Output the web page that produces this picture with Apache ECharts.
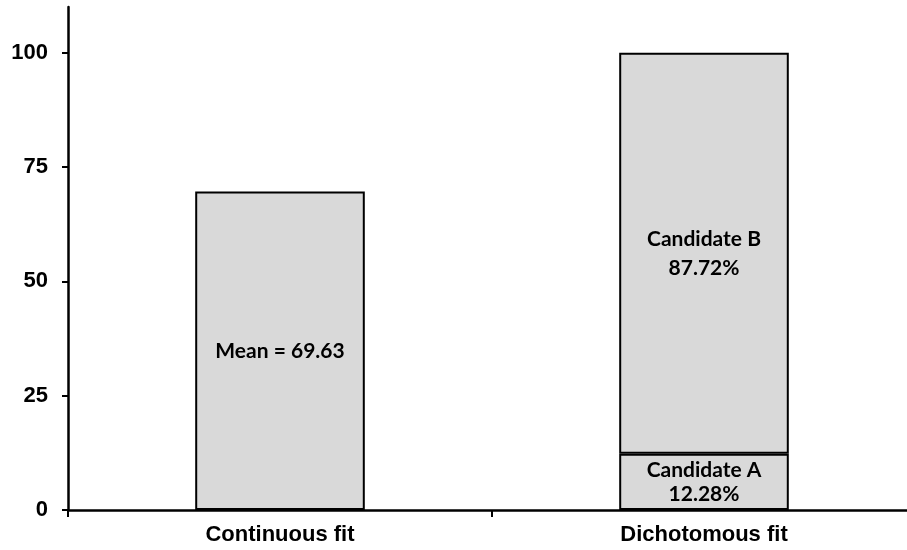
<!DOCTYPE html>
<html>
<head>
<meta charset="utf-8">
<script src="https://cdn.jsdelivr.net/npm/echarts@6/dist/echarts.min.js"></script>
<style>
  html, body { margin: 0; padding: 0; background: #fff; }
  #chart { width: 907px; height: 550px; }
</style>
</head>
<body>
<div id="chart"></div>
<script>
// Categories and values
const categories = ['Continuous fit', 'Dichotomous fit'];
const meanValues = [69.63, null];
const candidateA = [null, 12.28];
const candidateB = [null, 87.72];
const yTicks = [0, 25, 50, 75, 100];

const barFill = '#d9d9d9';
const ink = '#000';
const labelFont = 'Lato, "Open Sans", sans-serif';
const axisFont = '"Liberation Sans", Arial, sans-serif';

function barSeries(name, data, fmt, lineHeight) {
  return {
    name: name,
    type: 'bar',
    stack: 'total',
    data: data,
    barWidth: '40%',
    itemStyle: { color: barFill, borderColor: ink, borderWidth: 2 },
    label: {
      show: true,
      position: 'inside',
      formatter: p => (p.value == null ? '' : fmt(p.value)),
      color: ink,
      fontFamily: labelFont,
      fontWeight: 'bold',
      fontSize: 21,
      lineHeight: lineHeight
    }
  };
}

const chart = echarts.init(document.getElementById('chart'), null, { renderer: 'canvas' });
chart.setOption({
  animation: false,
  backgroundColor: '#fff',
  // the plot runs a little past the right edge of the canvas
  grid: {
    left: 68, top: 7, bottom: 40, width: 848,
    containLabel: false,
    outerBoundsMode: 'none'
  },
  xAxis: {
    type: 'category',
    data: categories,
    boundaryGap: true,
    axisLine: { lineStyle: { color: ink, width: 2.5 } },
    axisTick: { show: true, length: 7, lineStyle: { color: ink, width: 2 } },
    axisLabel: {
      color: ink,
      fontFamily: axisFont,
      fontWeight: 'bold',
      fontSize: 22,
      margin: 14
    }
  },
  yAxis: {
    type: 'value',
    min: 0,
    max: 110,
    interval: 25,
    splitLine: { show: false },
    axisLine: { show: true, lineStyle: { color: ink, width: 2.5 } },
    axisTick: { show: true, length: 6, customValues: yTicks, lineStyle: { color: ink, width: 2 } },
    axisLabel: {
      customValues: yTicks,
      color: ink,
      fontFamily: axisFont,
      fontWeight: 'bold',
      fontSize: 22,
      margin: 20
    }
  },
  series: [
    barSeries('Mean', meanValues, v => 'Mean = ' + v.toFixed(2), 26),
    barSeries('Candidate A', candidateA, v => 'Candidate A\n' + v.toFixed(2) + '%', 24),
    barSeries('Candidate B', candidateB, v => 'Candidate B\n' + v.toFixed(2) + '%', 29)
  ]
});
</script>
</body>
</html>
